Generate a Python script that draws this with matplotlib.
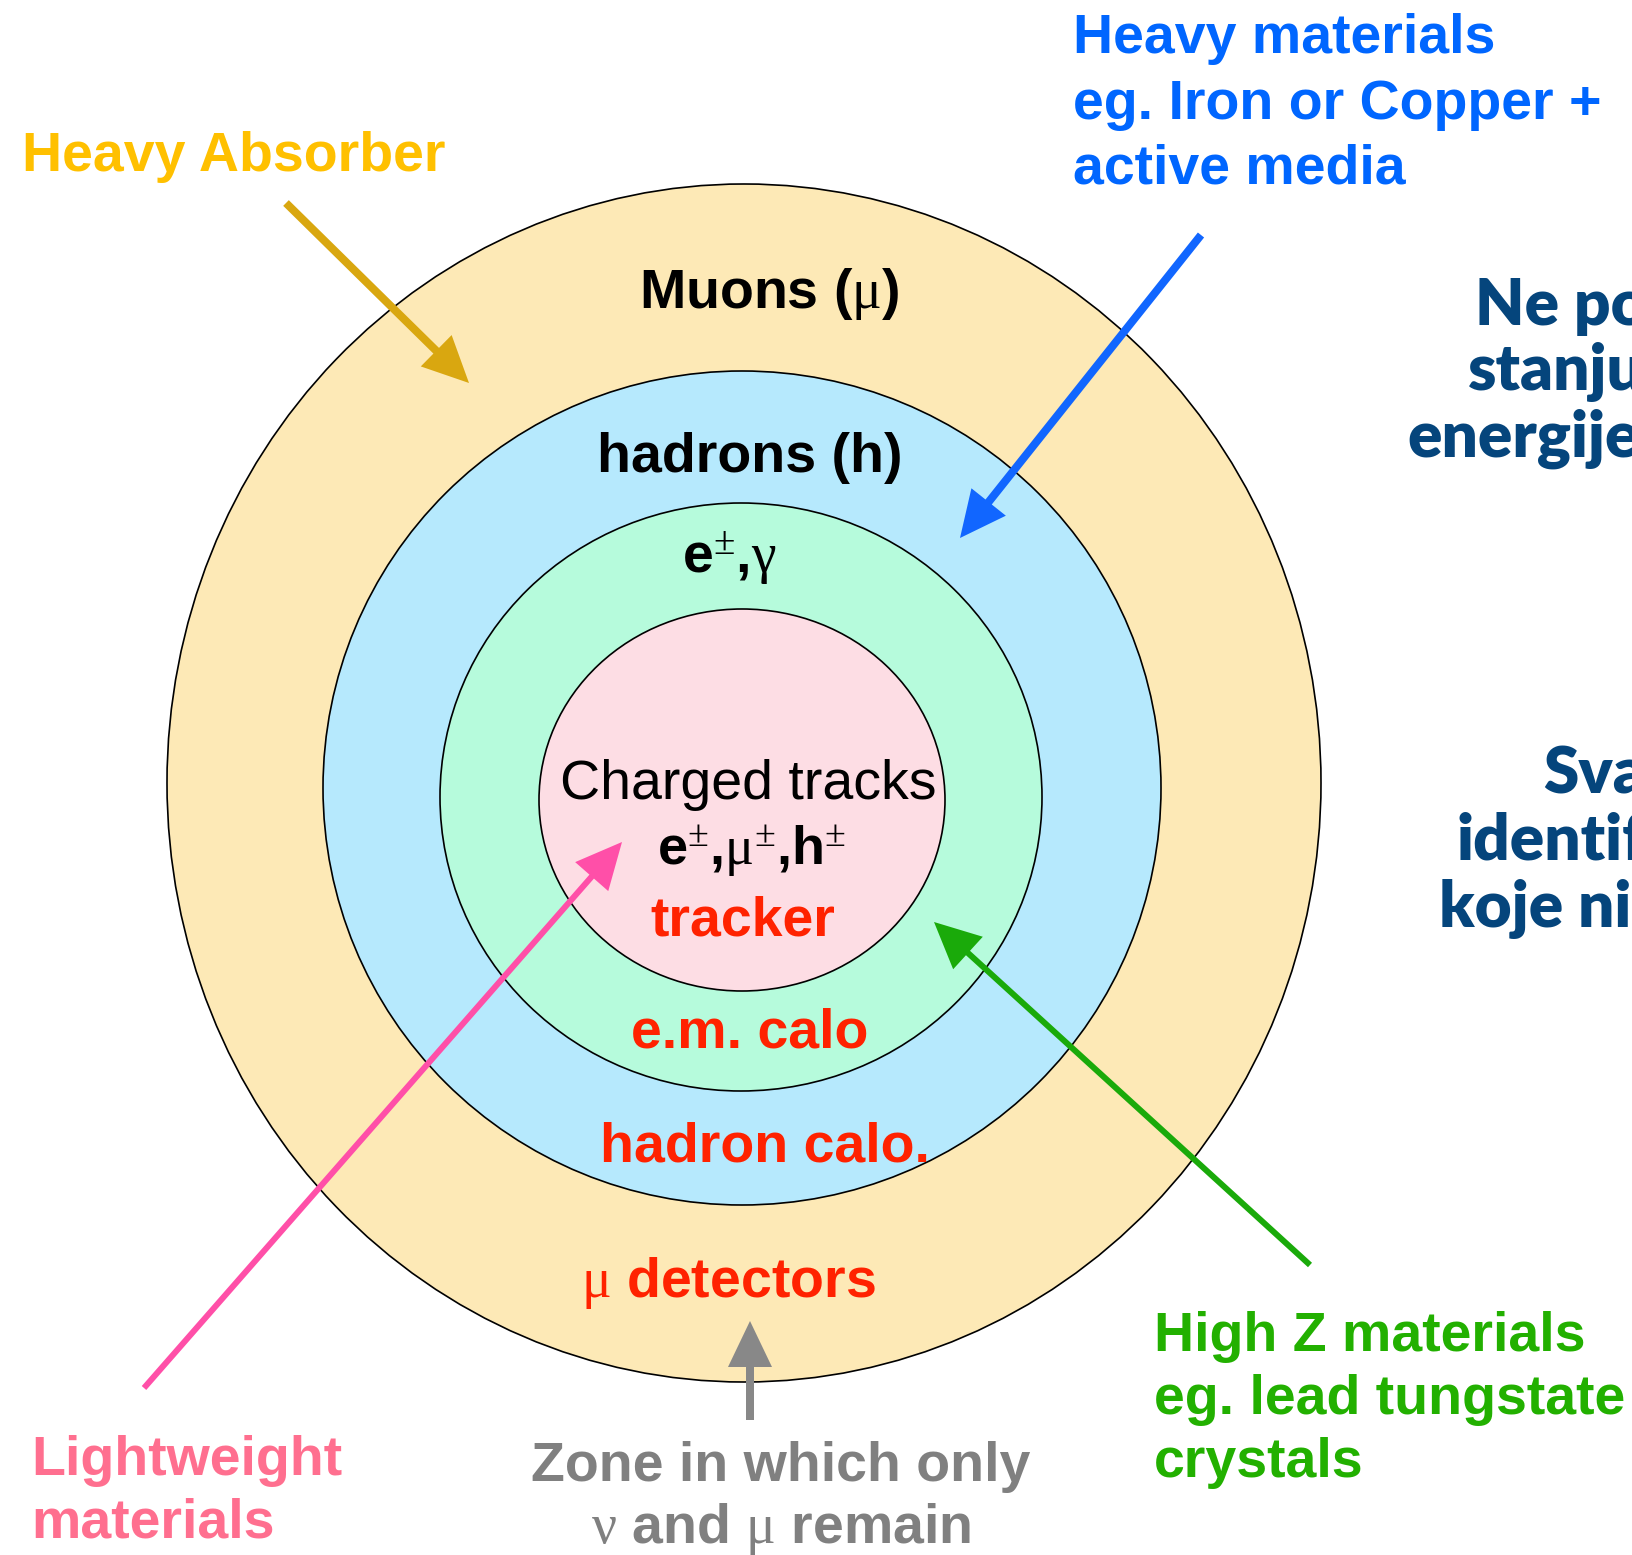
import matplotlib
matplotlib.use("Agg")
import matplotlib.pyplot as plt
from matplotlib.patches import Ellipse

plt.rcParams['mathtext.fontset'] = 'custom'
plt.rcParams['mathtext.rm'] = 'Liberation Serif'
plt.rcParams['mathtext.it'] = 'Liberation Serif:italic'
plt.rcParams['mathtext.bf'] = 'Liberation Sans:bold'

# ---- content ----
ring_names = ["muon system", "hadron calo", "em calo", "tracker"]
ring_colors = ["#FDE9B6", "#B6E9FD", "#B6FBDC", "#FDDDE4"]
particle_labels = [r"Muons ($\mathrm{\mu}$)", "hadrons (h)",
                   r"e$^{\pm}$,$\mathrm{\gamma}$", "Charged tracks",
                   r"e$^{\pm}$,$\mathrm{\mu}^{\pm}$,h$^{\pm}$"]
detector_labels = ["tracker", "e.m. calo", "hadron calo.", r"$\mathrm{\mu}$ detectors"]
absorber_lines = ["Heavy Absorber"]
hcal_lines = ["Heavy materials", "eg. Iron or Copper +", "active media"]
light_lines = ["Lightweight", "materials"]
zone_lines = ["Zone in which only", r"$\mathrm{\nu}$ and $\mathrm{\mu}$ remain"]
highz_lines = ["High Z materials", "eg. lead tungstate", "crystals"]
callout_colors = ["#FFC000", "#0066FF", "#FF6F8F", "#808080", "#22B000"]
arrow_colors = ["#D9A710", "#1166FF", "#FF4FA8", "#888888", "#1AAA0A"]
side_lines = ["Ne po", "stanju", "energije", "Sva", "identif", "koje ni"]
side_color = "#05457C"
red = "#FF2200"

W, H = 1633, 1555
fig = plt.figure(figsize=(W / 100, H / 100), dpi=100)
ax = fig.add_axes([0, 0, 1, 1])
ax.set_xlim(0, W)
ax.set_ylim(H, 0)
ax.axis("off")

# rings (center x, center y, width, height)
geom = [(744, 783, 1154, 1198), (742, 788, 838, 834), (741, 797, 602, 588), (742, 800, 406, 382)]
for (cx, cy, w, h), c in zip(geom, ring_colors):
    ax.add_patch(Ellipse((cx, cy), w, h, facecolor=c, edgecolor="black", lw=1.2, zorder=1))

bold = dict(family="Liberation Sans", weight="bold")
FS = 40
# particle labels
lab_pos = [(769, 308), (750, 472), (729, 573), (748, 799), (751, 865)]
for i, (s, (x, y)) in enumerate(zip(particle_labels, lab_pos)):
    kw = dict(family="Liberation Sans") if i == 3 else bold
    fs = 39 if i == 4 else FS
    ax.text(x, y, s, fontsize=fs, ha="center", va="baseline", color="black", zorder=3, **kw)
# detector labels
det_pos = [(743, 935), (750, 1047), (765, 1161), (728, 1297)]
for s, (x, y) in zip(detector_labels, det_pos):
    ax.text(x, y, s, fontsize=FS, ha="center", va="baseline", color=red, zorder=3, **bold)

# callouts
def lines(strings, x, ys, color, ha="left"):
    for s, y in zip(strings, ys):
        ax.text(x, y, s, fontsize=FS, ha=ha, va="baseline", color=color, zorder=5, **bold)

lines(absorber_lines, 22, [171], callout_colors[0])
lines(hcal_lines, 1073, [53, 119, 183], callout_colors[1])
lines(light_lines, 31, [1475, 1538], callout_colors[2])
lines(zone_lines, 781, [1481, 1543], callout_colors[3], ha="center")
lines(highz_lines, 1154, [1351, 1414, 1477], callout_colors[4])

# arrows (start -> tip)
arrows = [((286, 203), (469, 383)), ((1201, 235), (960, 538)), ((144, 1388), (622, 842)),
          ((750, 1420), (750, 1321)), ((1310, 1265), (934, 922))]
widths = [8, 8, 6, 8, 6]
for ((x0, y0), (x1, y1)), c, wd in zip(arrows, arrow_colors, widths):
    ax.arrow(x0, y0, x1 - x0, y1 - y0, width=wd, head_width=44, head_length=46,
             length_includes_head=True, color=c, lw=0, zorder=4)

# right-side (cropped) text
side_pos = [(1475, 325), (1468, 390), (1407, 457), (1543, 794), (1457, 860), (1439, 927)]
for s, (x, y) in zip(side_lines, side_pos):
    ax.text(x, y, s, fontsize=46, ha="left", va="baseline", color=side_color,
            family="Lato", weight="heavy", clip_on=False)

fig.savefig("out.png", dpi=100)
